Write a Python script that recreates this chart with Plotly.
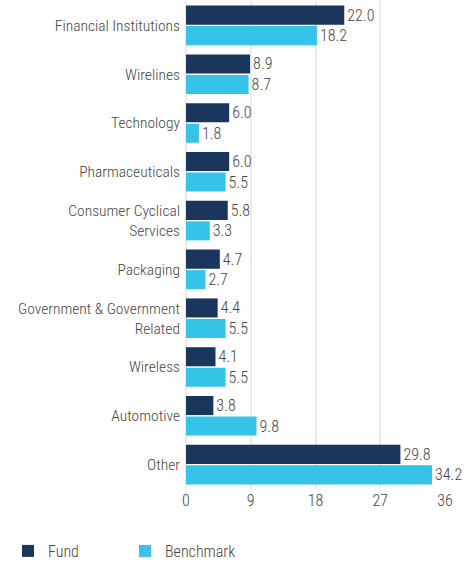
import plotly.graph_objects as go

categories = ["Financial Institutions", "Wirelines", "Technology", "Pharmaceuticals",
              "Consumer Cyclical<br>Services", "Packaging", "Government & Government<br>Related",
              "Wireless", "Automotive", "Other"]
fund = [22.0, 8.9, 6.0, 6.0, 5.8, 4.7, 4.4, 4.1, 3.8, 29.8]
benchmark = [18.2, 8.7, 1.8, 5.5, 3.3, 2.7, 5.5, 5.5, 9.8, 34.2]
tick_vals = [0, 9, 18, 27, 36]

FONT = "Roboto Condensed, sans-serif"
TXT = "#454545"
W = 300
fig = go.Figure()
fig.add_trace(go.Bar(y=categories, x=fund, orientation="h", name="Fund",
                     marker=dict(color="#1b365d", line=dict(width=0)),
                     text=[f"{v:.1f}" for v in fund], textposition="outside",
                     textfont=dict(color=TXT, size=16, family=FONT, weight=W), cliponaxis=False))
fig.add_trace(go.Bar(y=categories, x=benchmark, orientation="h", name="Benchmark",
                     marker=dict(color="#36c3e8", line=dict(width=0)),
                     text=[f"{v:.1f}" for v in benchmark], textposition="outside",
                     textfont=dict(color=TXT, size=16, family=FONT, weight=W), cliponaxis=False))

fig.update_layout(
    width=467, height=563,
    margin=dict(l=186, r=22, t=1, b=74, autoexpand=False),
    barmode="group", bargap=0.16, bargroupgap=0.07,
    plot_bgcolor="white", paper_bgcolor="white",
    font=dict(family=FONT, size=16, color=TXT, weight=W),
    xaxis=dict(range=[0, 36], tickvals=tick_vals, showgrid=True, gridcolor="#ebebeb",
               gridwidth=2, zeroline=True, zerolinecolor="#ebebeb", zerolinewidth=2,
               tickfont=dict(size=16, color=TXT, weight=W), ticks="", showline=False, automargin=False),
    yaxis=dict(autorange="reversed", ticks="", showline=False, automargin=False,
               tickfont=dict(size=15.5, color=TXT, weight=W), ticklabelstandoff=5),
    legend=dict(orientation="h", x=8 / 467, xanchor="left", y=12 / 563, yanchor="middle",
                yref="container", xref="container",
                font=dict(size=16, color=TXT, weight=W), entrywidth=72, entrywidthmode="pixels",
                traceorder="normal"),
)
fig.write_html("out.html", config={"displayModeBar": False},
               post_script="document.body.style.margin='0';")
